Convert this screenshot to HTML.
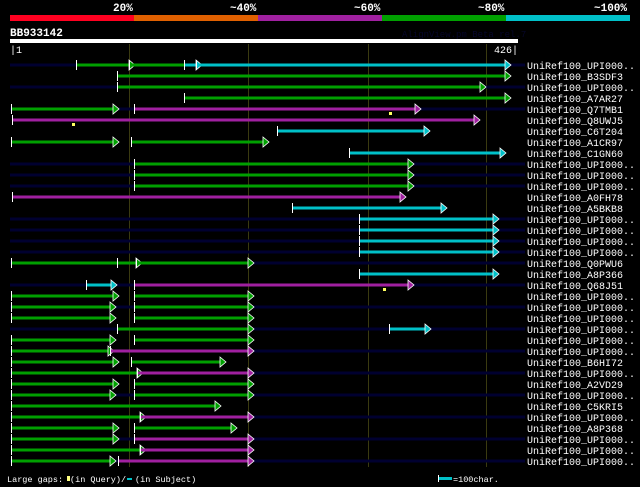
<!DOCTYPE html>
<html><head><meta charset="utf-8"><style>
html,body{margin:0;padding:0;background:#000;width:640px;height:487px;overflow:hidden}
svg{display:block}
text{font-family:"Liberation Mono","DejaVu Sans Mono",monospace}
</style></head><body>
<svg id="s" width="640" height="487" xmlns="http://www.w3.org/2000/svg">
<rect width="640" height="487" fill="#000"/>
<rect x="10" y="15" width="124" height="6" fill="#ff0020"/>
<rect x="134" y="15" width="124" height="6" fill="#e06000"/>
<rect x="258" y="15" width="124" height="6" fill="#a020a0"/>
<rect x="382" y="15" width="124" height="6" fill="#00a000"/>
<rect x="506" y="15" width="124" height="6" fill="#00c0c8"/>
<g fill="#fff" font-size="11" font-weight="bold">
<text x="113" y="11">20%</text><text x="230" y="11">~40%</text><text x="354" y="11">~60%</text><text x="478" y="11">~80%</text><text x="594" y="11">~100%</text>
<text x="10" y="36">BB933142</text>
</g>
<text x="402" y="37" font-size="9" fill="#06062a">AlignView.pm Beta rel.7</text>
<rect x="10" y="39" width="508" height="4" fill="#fff"/>
<text x="10" y="53" font-size="10" fill="#fff">|1</text>
<text x="518" y="53" font-size="10" fill="#fff" text-anchor="end">426|</text>
<g stroke="#3a3a10" stroke-width="1">
<line x1="129.5" y1="44" x2="129.5" y2="467"/><line x1="248.5" y1="44" x2="248.5" y2="467"/><line x1="368.5" y1="44" x2="368.5" y2="467"/><line x1="486.5" y1="44" x2="486.5" y2="467"/>
</g>
<g id="rows"></g>
<text x="7" y="482" font-size="8.5" fill="#fff">Large gaps:</text>
<rect x="67" y="476" width="3" height="5" fill="#ffff80"/>
<text x="70" y="482" font-size="8.5" fill="#fff">(in Query)/</text>
<rect x="127" y="478" width="5" height="2" fill="#00c0c8"/>
<text x="135" y="482" font-size="8.5" fill="#fff">(in Subject)</text>
<rect x="438" y="477" width="14" height="3" fill="#00c0c8"/>
<line x1="438.5" y1="475" x2="438.5" y2="482" stroke="#fff"/>
<text x="453" y="482" font-size="8.5" fill="#fff">=100char.</text>
</svg>
<script>
var G='#00a000',C='#00c0c8',P='#a020a0',N='#000030';
var U='UniRef100_UPI000..';
var rows=[
[U,[10,525],[[76,129,G,1],[129,184,G,0],[184,196,C,1],[196,505,C,1]]],
['UniRef100_B3SDF3',null,[[117,505,G,1]]],
[U,[10,525],[[117,480,G,1]]],
['UniRef100_A7AR27',null,[[184,505,G,1]]],
['UniRef100_Q7TMB1',[10,525],[[11,113,G,1],[134,415,P,1]],[389]],
['UniRef100_Q8UWJ5',null,[[12,474,P,1]],[72]],
['UniRef100_C6T204',null,[[277,424,C,1]]],
['UniRef100_A1CR97',null,[[11,113,G,1],[131,263,G,1]]],
['UniRef100_C1GN60',null,[[349,500,C,1]]],
[U,[10,525],[[134,408,G,1]]],
[U,[10,525],[[134,408,G,1]]],
[U,[10,525],[[134,408,G,1]]],
['UniRef100_A0FH78',null,[[12,400,P,1]]],
['UniRef100_A5BKB8',null,[[292,441,C,1]]],
[U,[10,525],[[359,493,C,1]]],
[U,[10,525],[[359,493,C,1]]],
[U,[10,525],[[359,493,C,1]]],
[U,[10,525],[[359,493,C,1]]],
['UniRef100_Q0PWU6',[10,525],[[11,117,G,0],[117,136,G,1],[136,248,G,1]]],
['UniRef100_A8P366',null,[[359,493,C,1]]],
['UniRef100_Q68J51',[10,525],[[86,111,C,1],[134,408,P,1]],[383]],
[U,null,[[11,113,G,1],[134,248,G,1]]],
[U,[10,525],[[11,110,G,1],[134,248,G,1]]],
[U,null,[[11,110,G,1],[134,248,G,1]]],
[U,[10,525],[[117,248,G,1],[389,425,C,1]]],
[U,null,[[11,110,G,1],[134,248,G,1]]],
[U,[10,525],[[11,108,G,1],[110,248,P,1]]],
['UniRef100_B6HI72',null,[[11,113,G,1],[131,220,G,1]]],
[U,[10,525],[[11,137,G,1],[137,248,P,1]]],
['UniRef100_A2VD29',null,[[11,113,G,1],[134,248,G,1]]],
[U,[10,525],[[11,110,G,1],[134,248,G,1]]],
['UniRef100_C5KRI5',null,[[11,215,G,1]]],
[U,[10,525],[[11,140,G,1],[140,248,P,1]]],
['UniRef100_A8P368',null,[[11,113,G,1],[134,231,G,1]]],
[U,[10,525],[[11,113,G,1],[134,248,P,1]]],
[U,null,[[11,140,G,1],[140,248,P,1]]],
[U,[10,525],[[11,110,G,1],[118,248,P,1]]]
];
var h='';
rows.forEach(function(r,i){
 var y=65+i*11;
 if(r[1]) h+='<rect x="'+r[1][0]+'" y="'+(y-1.5)+'" width="'+(r[1][1]-r[1][0])+'" height="3" fill="'+N+'"/>';
 r[2].forEach(function(s){
  h+='<rect x="'+s[0]+'" y="'+(y-1.5)+'" width="'+(s[1]-s[0])+'" height="3" fill="'+s[2]+'"/>';
  h+='<line x1="'+(s[0]+.5)+'" y1="'+(y-5)+'" x2="'+(s[0]+.5)+'" y2="'+(y+5)+'" stroke="#fff"/>';
  if(s[3]){var x=s[1];
   h+='<polygon points="'+x+','+(y-5)+' '+(x+6)+','+y+' '+x+','+(y+5)+'" fill="'+s[2]+'" stroke="#fff" stroke-width="0.8"/>';}
 });
 (r[3]||[]).forEach(function(mx){h+='<rect x="'+mx+'" y="'+(y+3)+'" width="3" height="3" fill="#ffff60"/>';});
 h+='<text x="527" y="'+(y+4)+'" font-size="10" fill="#fff">'+r[0]+'</text>';
});
document.getElementById('rows').innerHTML=h;
</script>
</body></html>
